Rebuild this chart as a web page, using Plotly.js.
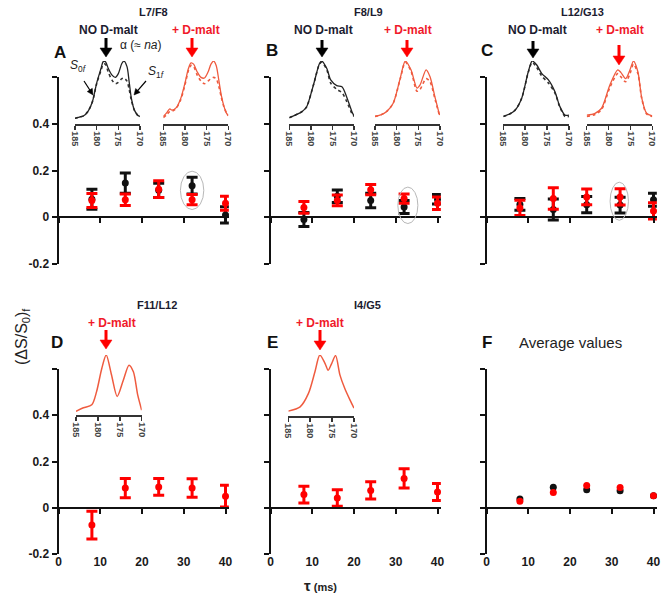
<!DOCTYPE html>
<html>
<head>
<meta charset="utf-8">
<script src="https://cdn.plot.ly/plotly-3.0.1.min.js"></script>
<style>html,body{margin:0;padding:0;background:#fff;}#chart{width:664px;height:595px;}</style>
</head>
<body>
<div id="chart"></div>
<script>
// ---------------- DATA ----------------
const tau = [8, 16, 24, 32, 40];
const tauTicks = [0, 10, 20, 30, 40];
const tauTickText = ['0', '10', '20', '30', '40'];
const yTicks = [-0.2, 0, 0.2, 0.4];
const yTickText = ['-0.2', '0', '0.2', '0.4'];
const yTopTick = [0.6];

// Panel A  L7/F8
const A_no = [0.077, 0.146, 0.115, 0.135, 0.01];
const A_no_err = [0.043, 0.043, 0.03, 0.036, 0.035];
const A_d = [0.072, 0.075, 0.12, 0.075, 0.06];
const A_d_err = [0.03, 0.025, 0.036, 0.022, 0.03];
// Panel B  F8/L9
const B_no = [-0.01, 0.09, 0.072, 0.044, 0.077];
const B_no_err = [0.03, 0.027, 0.031, 0.028, 0.02];
const B_d = [0.042, 0.072, 0.118, 0.08, 0.06];
const B_d_err = [0.025, 0.023, 0.022, 0.02, 0.027];
// Panel C  L12/G13
const C_no = [0.055, 0.033, 0.054, 0.052, 0.075];
const C_no_err = [0.025, 0.045, 0.035, 0.034, 0.028];
const C_d = [0.04, 0.08, 0.087, 0.087, 0.027];
const C_d_err = [0.033, 0.046, 0.034, 0.035, 0.035];
// Panel D  F11/L12
const D_d = [-0.075, 0.085, 0.09, 0.085, 0.05];
const D_d_err = [0.06, 0.042, 0.036, 0.04, 0.047];
// Panel E  I4/G5
const E_d = [0.057, 0.042, 0.075, 0.127, 0.068];
const E_d_err = [0.036, 0.036, 0.037, 0.042, 0.037];
// Panel F  Average values
const F_no = [0.038, 0.089, 0.078, 0.074, 0.052];
const F_d = [0.028, 0.066, 0.096, 0.088, 0.052];

// highlighted points (ellipse extents around tau = 32)
const hlA = [29.2, 34.8, 0.033, 0.197];
const hlB = [30.5, 35.3, -0.027, 0.129];
const hlC = [29.6, 34.0, -0.013, 0.15];

// Inset spectra (ppm, normalised intensity)
const specTicks = [185, 180, 175, 170];
const ppmA_no = [185, 184, 183, 182, 181, 180, 179, 178.5, 178, 177.3, 176.5, 175.7, 175, 174.2, 173.7, 173, 172.5, 172, 171.3, 170.5, 170];
const A_no_S0 = [0.09, 0.11, 0.13, 0.20, 0.35, 0.65, 0.88, 0.99, 0.99, 0.88, 0.78, 0.74, 0.80, 0.96, 1.0, 0.91, 0.67, 0.41, 0.22, 0.14, 0.12];
const A_no_S1 = [0.09, 0.11, 0.13, 0.20, 0.35, 0.64, 0.85, 0.95, 0.95, 0.82, 0.70, 0.64, 0.66, 0.72, 0.73, 0.68, 0.55, 0.38, 0.22, 0.13, 0.10];
const ppmA_d = [185, 184.2, 183.5, 183, 182, 181, 180, 179.2, 178.6, 178, 177.2, 176.3, 175.5, 174.7, 174, 173.4, 172.8, 172.2, 171.6, 171, 170.4, 170];
const A_d_S0 = [0.12, 0.18, 0.24, 0.22, 0.26, 0.40, 0.65, 0.88, 0.97, 0.95, 0.83, 0.74, 0.73, 0.82, 0.95, 1.0, 0.93, 0.70, 0.45, 0.28, 0.17, 0.14];
const A_d_S1 = [0.10, 0.15, 0.20, 0.20, 0.25, 0.38, 0.62, 0.85, 0.93, 0.91, 0.78, 0.68, 0.64, 0.68, 0.72, 0.74, 0.72, 0.60, 0.42, 0.27, 0.17, 0.13];
const ppmB_no = [185, 184, 183, 182, 181, 179.4, 178, 177.5, 176.3, 175.4, 174, 172.8, 171.7, 170.5, 170];
const B_no_S0 = [0.10, 0.13, 0.16, 0.20, 0.27, 0.62, 0.96, 1.0, 0.88, 0.70, 0.61, 0.59, 0.43, 0.20, 0.13];
const B_no_S1 = [0.10, 0.13, 0.16, 0.20, 0.27, 0.62, 0.95, 0.98, 0.86, 0.65, 0.55, 0.50, 0.36, 0.17, 0.12];
const ppmB_d = [185, 183.5, 182.3, 180.8, 179.2, 178, 176.7, 175.3, 174.6, 173.2, 172.3, 171.1, 170.1];
const B_d_S0 = [0.12, 0.15, 0.20, 0.33, 0.72, 1.0, 0.86, 0.57, 0.62, 0.86, 0.75, 0.41, 0.14];
const B_d_S1 = [0.12, 0.15, 0.20, 0.33, 0.71, 0.98, 0.84, 0.52, 0.55, 0.72, 0.67, 0.38, 0.13];
const ppmC_no = [185, 183.5, 182.3, 180.8, 179.3, 178.4, 177.4, 176.2, 174.7, 173.2, 172.1, 170.9, 170];
const C_no_S0 = [0.12, 0.16, 0.22, 0.41, 0.83, 1.0, 0.94, 0.80, 0.70, 0.51, 0.28, 0.14, 0.14];
const C_no_S1 = [0.12, 0.16, 0.22, 0.41, 0.82, 0.98, 0.90, 0.76, 0.65, 0.49, 0.27, 0.12, 0.12];
const ppmC_d = [185, 183.1, 181.6, 179.7, 177.9, 177.2, 176.1, 175.1, 174.3, 173.3, 172.4, 171.3, 170];
const C_d_S0 = [0.14, 0.17, 0.25, 0.62, 0.86, 0.82, 0.72, 0.86, 1.0, 0.83, 0.41, 0.17, 0.13];
const C_d_S1 = [0.12, 0.15, 0.23, 0.58, 0.80, 0.75, 0.67, 0.80, 0.95, 0.80, 0.40, 0.16, 0.12];
const ppmD = [185, 183.3, 181.4, 180.3, 179.1, 178.1, 176.9, 175.6, 174.2, 172.9, 171.9, 170.9, 170];
const D_spec = [0.06, 0.12, 0.17, 0.39, 0.78, 1.0, 0.67, 0.31, 0.58, 0.83, 0.72, 0.33, 0.08];
const ppmE = [185, 182.3, 180.4, 178.9, 177.8, 176.6, 175.9, 175.1, 174.2, 173.2, 172.1, 170.9, 170];
const E_spec = [0.08, 0.15, 0.37, 0.73, 1.0, 0.86, 0.75, 0.86, 0.99, 0.67, 0.45, 0.26, 0.13];

// ---------------- STYLE / LAYOUT ----------------
const W = 664, H = 595;
const FONT = 'Liberation Sans, Arial, sans-serif';
const BLACK = '#111111', RED = '#ff0000', LRED = '#ef5b3f', LABRED = '#f01a2a', NAVY = '#1c1c30';
const px = x => x / W, py = y => 1 - y / H;

const data = [];
const layout = {
  width: W, height: H, margin: {l: 0, r: 0, t: 0, b: 0},
  paper_bgcolor: '#fff', plot_bgcolor: 'rgba(0,0,0,0)',
  showlegend: false, font: {family: FONT, color: '#222'},
  annotations: [], shapes: []
};

const X_MAX = 40.8;
const PX_PER_UNIT = 4.175;
const xLeft = [58.5, 270.5, 486.5];
const yDoms = [[264, 77], [554, 369]];

function mainPanel(idx, col, row, showYLabels, showXLabels) {
  const xd = [px(xLeft[col]), px(xLeft[col] + X_MAX * PX_PER_UNIT)];
  const yd = [py(yDoms[row][0]), py(yDoms[row][1])];
  const zeroPos = yd[0] + (0 - (-0.2)) / 0.8 * (yd[1] - yd[0]);
  const sx = idx === 1 ? '' : idx;
  layout['xaxis' + sx] = {
    domain: xd, range: [0, X_MAX], anchor: 'free', position: zeroPos,
    showline: true, linecolor: BLACK, linewidth: 2,
    ticks: 'outside', ticklen: 5, tickwidth: 2, tickcolor: BLACK,
    tickvals: tauTicks, ticktext: tauTickText,
    showticklabels: showXLabels, ticklabelstandoff: 38,
    tickfont: {size: 12, weight: 'bold', color: '#1a1a1a', family: FONT},
    showgrid: false, zeroline: false, fixedrange: true
  };
  layout['yaxis' + sx] = {
    domain: yd, range: [-0.2, 0.6], anchor: 'x' + sx,
    showline: true, linecolor: BLACK, linewidth: 2,
    ticks: 'outside', ticklen: 5, tickwidth: 2, tickcolor: BLACK,
    tickvals: yTicks, ticktext: yTickText, showticklabels: showYLabels,
    minor: {tickvals: yTopTick, ticks: 'outside', ticklen: 5, tickwidth: 2, tickcolor: BLACK, showgrid: false},
    tickfont: {size: 12, weight: 'bold', color: '#1a1a1a', family: FONT},
    showgrid: false, zeroline: false, fixedrange: true
  };
}

function points(idx, y, err, color) {
  const sx = idx === 1 ? '' : idx;
  const t = {
    type: 'scatter', mode: 'markers', x: tau, y: y,
    xaxis: 'x' + sx, yaxis: 'y' + sx, cliponaxis: false,
    marker: {color: color, size: 7}
  };
  if (err) t.error_y = {type: 'data', array: err, visible: true, thickness: 3, width: 5.5, color: color};
  data.push(t);
}

mainPanel(1, 0, 0, true, false);
mainPanel(2, 1, 0, false, false);
mainPanel(3, 2, 0, false, false);
mainPanel(4, 0, 1, true, true);
mainPanel(5, 1, 1, false, true);
mainPanel(6, 2, 1, false, true);

points(1, A_no, A_no_err, BLACK); points(1, A_d, A_d_err, RED);
points(2, B_no, B_no_err, BLACK); points(2, B_d, B_d_err, RED);
points(3, C_no, C_no_err, BLACK); points(3, C_d, C_d_err, RED);
points(4, D_d, D_d_err, RED);
points(5, E_d, E_d_err, RED);
points(6, F_no, null, BLACK); points(6, F_d, null, RED);

// highlight ellipses
[[hlA, 'x', 'y'], [hlB, 'x2', 'y2'], [hlC, 'x3', 'y3']].forEach(([h, xr, yr]) => {
  layout.shapes.push({type: 'circle', xref: xr, yref: yr, x0: h[0], x1: h[1], y0: h[2], y1: h[3],
    line: {color: '#b8b8b8', width: 1}});
});

// insets
let inIdx = 7;
function inset(x185, x170, yAxisPx, yTopPx, series) {
  const n = inIdx++;
  layout['xaxis' + n] = {
    domain: [px(x185), px(x170)], range: [185, 170], anchor: 'y' + n,
    showline: true, linecolor: '#333', linewidth: 1.5,
    ticks: 'outside', ticklen: 4, tickwidth: 1.5, tickcolor: '#333',
    tickvals: specTicks, tickangle: 90,
    tickfont: {size: 9, weight: 'bold', color: '#444', family: FONT},
    showgrid: false, zeroline: false, fixedrange: true
  };
  layout['yaxis' + n] = {
    domain: [py(yAxisPx), py(yTopPx)], range: [0, 1], anchor: 'x' + n,
    showline: false, showticklabels: false, ticks: '', showgrid: false, zeroline: false,
    fixedrange: true
  };
  series.forEach(s => data.push({
    type: 'scatter', mode: 'lines', x: s.x, y: s.y, xaxis: 'x' + n, yaxis: 'y' + n,
    cliponaxis: false, line: {color: s.c, width: s.w || 1.3, dash: s.d || 'solid', shape: 'spline', smoothing: 0.8}
  }));
}
inset(75, 140, 124, 61, [{x: ppmA_no, y: A_no_S1, c: '#333', d: 'dot', w: 1.6}, {x: ppmA_no, y: A_no_S0, c: '#222'}]);
inset(163.3, 228.3, 124, 61, [{x: ppmA_d, y: A_d_S1, c: LRED, d: 'dot', w: 1.6}, {x: ppmA_d, y: A_d_S0, c: LRED}]);
inset(289.3, 354, 124, 61, [{x: ppmB_no, y: B_no_S1, c: '#333', d: 'dot', w: 1.6}, {x: ppmB_no, y: B_no_S0, c: '#222'}]);
inset(375, 440, 124, 61, [{x: ppmB_d, y: B_d_S1, c: LRED, d: 'dot', w: 1.6}, {x: ppmB_d, y: B_d_S0, c: LRED}]);
inset(503.3, 569, 124, 61, [{x: ppmC_no, y: C_no_S1, c: '#333', d: 'dot', w: 1.6}, {x: ppmC_no, y: C_no_S0, c: '#222'}]);
inset(586.7, 652.3, 124, 61, [{x: ppmC_d, y: C_d_S1, c: LRED, d: 'dot', w: 1.6}, {x: ppmC_d, y: C_d_S0, c: LRED}]);
inset(76, 141.7, 415, 355, [{x: ppmD, y: D_spec, c: LRED, w: 1.5}]);
inset(288.3, 354, 416, 355, [{x: ppmE, y: E_spec, c: LRED, w: 1.5}]);

// text annotations
function txt(text, x, y, size, color, extra) {
  layout.annotations.push(Object.assign({
    text: text, x: px(x), y: py(y), xref: 'paper', yref: 'paper',
    xanchor: 'center', yanchor: 'middle', showarrow: false,
    font: {family: FONT, size: size, color: color}
  }, extra || {}));
}
// arrow drawn as shapes (shaft line + triangular head), pixel geometry
function arrow(hx, hy, tx, ty, color, width, headLen, headHalf) {
  const dx = hx - tx, dy = hy - ty, L = Math.hypot(dx, dy);
  const ux = dx / L, uy = dy / L, nx = -uy, ny = ux;
  const bx = hx - ux * headLen, by = hy - uy * headLen;
  layout.shapes.push({type: 'line', xref: 'paper', yref: 'paper',
    x0: px(tx), y0: py(ty), x1: px(bx + ux * 1), y1: py(by + uy * 1),
    line: {color: color, width: width}});
  const p1 = [bx + nx * headHalf, by + ny * headHalf], p2 = [bx - nx * headHalf, by - ny * headHalf];
  layout.shapes.push({type: 'path', xref: 'paper', yref: 'paper',
    path: `M${px(hx)},${py(hy)} L${px(p1[0])},${py(p1[1])} L${px(p2[0])},${py(p2[1])} Z`,
    fillcolor: color, line: {color: color, width: 0.5}});
}

// panel titles
txt('<b>L7/F8</b>', 153, 12, 11, NAVY);
txt('<b>F8/L9</b>', 368, 12, 11, NAVY);
txt('<b>L12/G13</b>', 582, 12, 11, NAVY);
txt('<b>F11/L12</b>', 157, 305, 11, NAVY);
txt('<b>I4/G5</b>', 367, 305, 11, NAVY);

// condition labels
const redLab = {font: {family: FONT, size: 12, color: LABRED, weight: 'bold'}};
txt('<b>NO D-malt</b>', 108, 30, 12, NAVY);
txt('<b>NO D-malt</b>', 323, 30, 12, NAVY);
txt('<b>NO D-malt</b>', 537, 30, 12, NAVY);
txt('+ D-malt', 196, 30, 12, LABRED, redLab);
txt('+ D-malt', 408, 30, 12, LABRED, redLab);
txt('+ D-malt', 620, 30, 12, LABRED, redLab);
txt('+ D-malt', 112, 323, 12, LABRED, redLab);
txt('+ D-malt', 320, 323, 12, LABRED, redLab);

// arrows
arrow(106, 57, 106, 38, '#000', 3, 9, 6);
arrow(192, 57, 192, 38, RED, 3, 9, 6);
arrow(322, 57, 322, 40, '#000', 3, 9, 6);
arrow(407, 57, 407, 40, RED, 3, 9, 6);
arrow(533, 58, 533, 41, '#000', 3, 9, 6);
arrow(619, 65, 619, 45, RED, 3, 9, 6);
arrow(106, 349, 106, 330, RED, 3, 9, 6);
arrow(320, 350, 320, 330, RED, 3, 9, 6);

// alpha, S0f, S1f
txt('α (≈ <i>na</i>)', 141, 45, 12, '#222');
txt('<i>S</i><sub>0<i>f</i></sub>', 78, 66, 12, '#222');
txt('<i>S</i><sub>1<i>f</i></sub>', 156, 72, 12, '#222');
arrow(93, 95, 84, 81, '#000', 1.2, 6, 3);
arrow(134, 95, 146, 81, '#000', 1.2, 6, 3);

// panel letters
txt('<b>A</b>', 60, 52, 17, '#111');
txt('<b>B</b>', 272, 50, 17, '#111');
txt('<b>C</b>', 487, 50, 17, '#111');
txt('<b>D</b>', 57, 342, 17, '#111');
txt('<b>E</b>', 272, 342, 17, '#111');
txt('<b>F</b>', 487, 342, 17, '#111');
txt('Average values', 570, 342, 15, '#222');

// axis titles
txt('(ΔS/S<sub>0</sub>)<sub>f</sub>', 22, 337, 16, '#222', {textangle: -90});
txt('<b><span style="font-size:15px">τ</span> (ms)</b>', 320, 585, 11, '#222');

Plotly.newPlot('chart', data, layout, {staticPlot: true, displayModeBar: false});
</script>
</body>
</html>
